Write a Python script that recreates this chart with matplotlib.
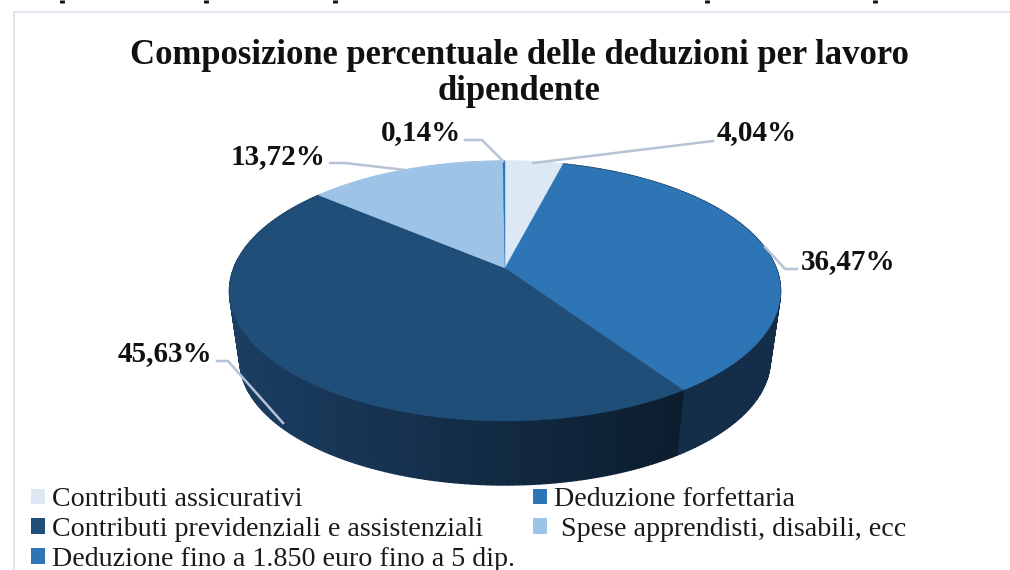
import numpy as np
import matplotlib
matplotlib.use("Agg")
import matplotlib.pyplot as plt
from matplotlib.patches import Patch

title = "Composizione percentuale delle deduzioni per lavoro\ndipendente"
categories = ["Contributi assicurativi", "Deduzione forfettaria",
              "Contributi previdenziali e assistenziali",
              " Spese apprendisti, disabili, ecc",
              "Deduzione fino a 1.850 euro fino a 5 dip."]
values = [4.04, 36.47, 45.63, 13.72, 0.14]
value_labels = ["4,04%", "36,47%", "45,63%", "13,72%", "0,14%"]
colors = ["#dce8f4", "#2e75b6", "#1f4e79", "#9dc3e6", "#2e75b6"]

plt.rcParams["font.family"] = ["Liberation Serif", "DejaVu Serif"]
W, H = 1010, 570
fig = plt.figure(figsize=(W / 100, H / 100), dpi=100, facecolor="white")
ax = fig.add_axes([0, 0, 1, 1])
ax.set_xlim(0, W)
ax.set_ylim(H, 0)
ax.axis("off")

# chart frame
ax.plot([14, 14, W + 5], [H + 5, 12, 12], color="#e1e7ee", lw=1.5, zorder=1)

# remnants of the cropped line of text above the chart
for x in [62, 206, 335, 707, 875]:
    ax.plot([x, x], [0, 3], color="#111111", lw=3.5, solid_capstyle="butt", zorder=1)


def project(theta, cx, cy, k, a, c):
    """Perspective view of a unit circle; theta runs clockwise from the top."""
    u, v = np.sin(theta), np.cos(theta)
    d = 1 + c * v
    return cx + k * u / d, cy - a * v / d


TOP = dict(cx=505, cy=268, k=271.2, a=125.9, c=0.1769)
BOTTOM = dict(cx=505, cy=338, k=261, a=121, c=0.1769)

edges = np.radians(np.concatenate([[0], np.cumsum(values)]) * 3.6)


def side_color(i, x):
    if i == 1:
        return (20 / 255, 45 / 255, 73 / 255)
    t = np.clip((x - 235) / 445, 0, 1)
    return tuple((np.array([27, 62, 98]) * (1 - t) + np.array([12, 29, 45]) * t) / 255)


# side wall, back to front
quads = []
for i in range(len(values)):
    th = np.linspace(edges[i], edges[i + 1], max(3, int((edges[i + 1] - edges[i]) * 60)))
    for t0, t1 in zip(th[:-1], th[1:]):
        x0, y0 = project(t0, **TOP)
        x1, y1 = project(t1, **TOP)
        x2, y2 = project(t1, **BOTTOM)
        x3, y3 = project(t0, **BOTTOM)
        quads.append((-np.cos((t0 + t1) / 2), i, [x0, x1, x2, x3], [y0, y1, y2, y3]))
for _, i, xs, ys in sorted(quads, key=lambda q: q[0]):
    col = side_color(i, np.mean(xs)) if i in (1, 2) else colors[i]
    ax.fill(xs, ys, facecolor=col, edgecolor=col, lw=1.0, zorder=2)

# top face
for i, col in enumerate(colors):
    th = np.linspace(edges[i], edges[i + 1], max(4, int((edges[i + 1] - edges[i]) * 80)))
    xs, ys = project(th, **TOP)
    ax.fill(np.r_[TOP["cx"], xs], np.r_[TOP["cy"], ys], facecolor=col, edgecolor=col, lw=0.3, zorder=3)

# leader lines
leaders = [
    ([713, 533], [141, 163]),
    ([797, 785, 765], [269, 269, 247]),
    ([217, 228, 283], [361, 361, 423]),
    ([330, 345, 405], [163, 163, 170]),
    ([465, 482, 503], [140, 140, 161]),
]
for xs, ys in leaders:
    ax.plot(xs, ys, color="#b6c2d6", lw=1.8, zorder=4, solid_joinstyle="round")

label_pos = [(757, 133), (848, 262), (165, 354), (278, 157), (421, 133)]
for (x, y), s in zip(label_pos, value_labels):
    ax.text(x, y, s, fontsize=21, fontweight="bold", ha="center", va="center", color="#111111", zorder=5)

ax.text(519, 73.5, title, fontsize=24.9, fontweight="bold", ha="center", va="center",
        color="#111111", linespacing=1.13, zorder=5)

# legend (column-first order)
order = [0, 2, 4, 1, 3]
handles = [Patch(facecolor=colors[i], edgecolor="none") for i in order]
labels = [categories[i] for i in order]
leg = ax.legend(handles, labels, ncol=2, frameon=False, fontsize=20.2,
                loc="lower left", bbox_to_anchor=(31 / W, -2 / H), bbox_transform=fig.transFigure,
                handlelength=0.5, handleheight=0.5, handletextpad=0.25, columnspacing=0.65,
                labelspacing=0.17, borderpad=0, borderaxespad=0)
for t in leg.get_texts():
    t.set_color("#1a1a1a")

fig.savefig("out.png", dpi=100)
